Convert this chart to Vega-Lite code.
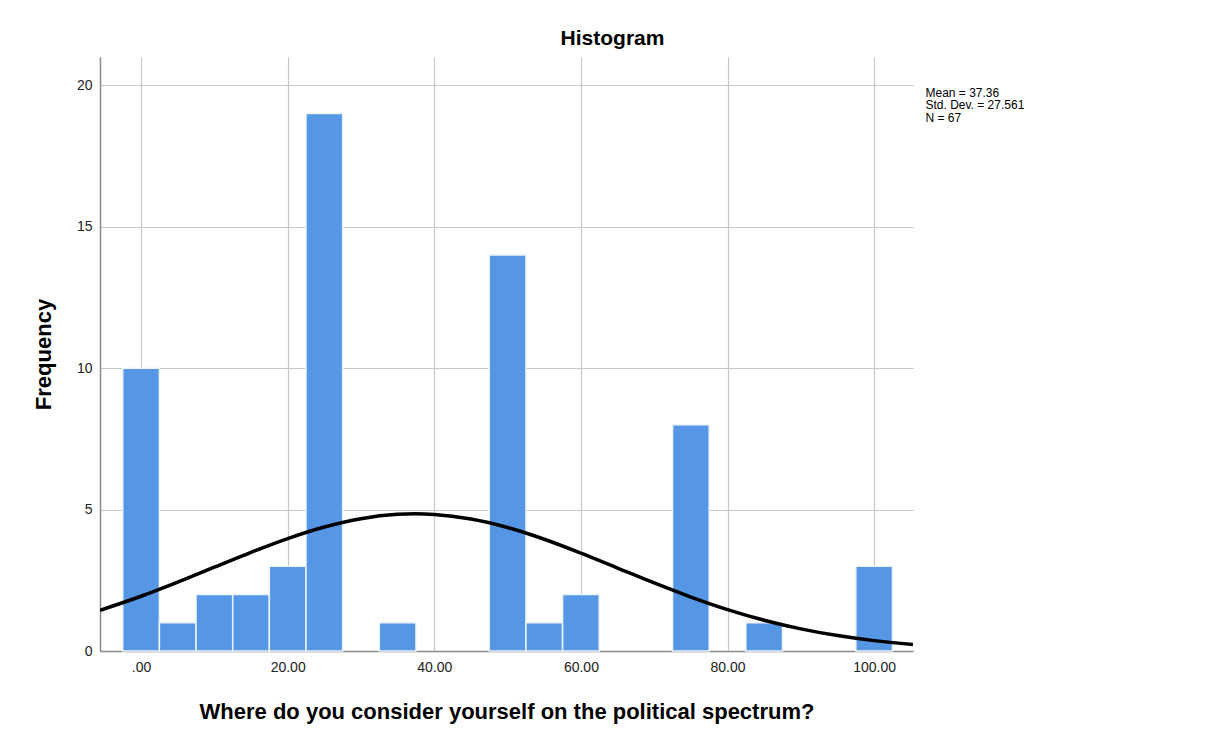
{
  "$schema": "https://vega.github.io/schema/vega-lite/v6.json",
  "width": 813,
  "height": 594,
  "autosize": {"type": "none"},
  "padding": {"left": 100, "top": 57, "right": 301, "bottom": 92},
  "background": "white",
  "config": {
    "view": {"stroke": null},
    "font": "Liberation Sans",
    "axis": {
      "gridColor": "#c8c8c8",
      "gridWidth": 1.2,
      "domainColor": "#8a8a8a",
      "domainWidth": 1.5,
      "ticks": false,
      "tickSize": 0,
      "labelFont": "Liberation Sans",
      "labelFontSize": 14,
      "labelColor": "#222222",
      "titleFont": "Liberation Sans",
      "titleFontSize": 22,
      "titleFontWeight": "bold",
      "titleColor": "#000000"
    }
  },
  "title": {
    "text": "Histogram",
    "fontSize": 21,
    "fontWeight": "bold",
    "font": "Liberation Sans",
    "color": "#000000",
    "anchor": "middle",
    "dx": 106,
    "offset": 8
  },
  "datasets": {
    "bins": [
      {"bin_start": -2.5, "bin_end": 2.5, "count": 10},
      {"bin_start": 2.5, "bin_end": 7.5, "count": 1},
      {"bin_start": 7.5, "bin_end": 12.5, "count": 2},
      {"bin_start": 12.5, "bin_end": 17.5, "count": 2},
      {"bin_start": 17.5, "bin_end": 22.5, "count": 3},
      {"bin_start": 22.5, "bin_end": 27.5, "count": 19},
      {"bin_start": 32.5, "bin_end": 37.5, "count": 1},
      {"bin_start": 47.5, "bin_end": 52.5, "count": 14},
      {"bin_start": 52.5, "bin_end": 57.5, "count": 1},
      {"bin_start": 57.5, "bin_end": 62.5, "count": 2},
      {"bin_start": 72.5, "bin_end": 77.5, "count": 8},
      {"bin_start": 82.5, "bin_end": 87.5, "count": 1},
      {"bin_start": 97.5, "bin_end": 102.5, "count": 3}
    ],
    "curve": [
      {"x": -5.6, "y": 1.439},
      {"x": 0, "y": 1.935},
      {"x": 5, "y": 2.434},
      {"x": 10, "y": 2.963},
      {"x": 15, "y": 3.489},
      {"x": 20, "y": 3.976},
      {"x": 25, "y": 4.385},
      {"x": 30, "y": 4.679},
      {"x": 35, "y": 4.831},
      {"x": 37.36, "y": 4.849},
      {"x": 40, "y": 4.827},
      {"x": 45, "y": 4.666},
      {"x": 50, "y": 4.365},
      {"x": 55, "y": 3.951},
      {"x": 60, "y": 3.46},
      {"x": 65, "y": 2.933},
      {"x": 70, "y": 2.405},
      {"x": 75, "y": 1.908},
      {"x": 80, "y": 1.465},
      {"x": 85, "y": 1.089},
      {"x": 90, "y": 0.783},
      {"x": 95, "y": 0.5446},
      {"x": 100, "y": 0.3665},
      {"x": 105.3, "y": 0.2324}
    ],
    "stats": [
      {"line": "Mean = 37.36", "xpos": 107.0, "ypos": 19.74},
      {"line": "Std. Dev. = 27.561", "xpos": 107.0, "ypos": 19.29},
      {"line": "N = 67", "xpos": 107.0, "ypos": 18.84}
    ]
  },
  "layer": [
    {
      "data": {"name": "bins"},
      "mark": {"type": "rect", "fill": "#5596e5", "stroke": "#eef4fc", "strokeWidth": 1.5},
      "encoding": {
        "x": {
          "field": "bin_start",
          "type": "quantitative",
          "scale": {"domain": [-5.6, 105.3], "nice": false, "zero": false},
          "axis": {
            "values": [0, 20, 40, 60, 80, 100],
            "format": ".2f",
            "labelExpr": "datum.value == 0 ? '.00' : format(datum.value, '.2f')",
            "labelPadding": 9,
            "title": "Where do you consider yourself on the political spectrum?",
            "titlePadding": 27
          }
        },
        "x2": {"field": "bin_end"},
        "y": {
          "field": "count",
          "type": "quantitative",
          "scale": {"domain": [0, 21], "nice": false},
          "axis": {
            "values": [0, 5, 10, 15, 20],
            "labelPadding": 8,
            "title": "Frequency",
            "titlePadding": 21
          }
        },
        "y2": {"datum": 0}
      }
    },
    {
      "data": {"name": "curve"},
      "mark": {"type": "line", "color": "#000000", "strokeWidth": 3.5, "interpolate": "monotone", "clip": true},
      "encoding": {
        "x": {"field": "x", "type": "quantitative"},
        "y": {"field": "y", "type": "quantitative"}
      }
    },
    {
      "data": {"name": "stats"},
      "mark": {"type": "text", "align": "left", "baseline": "middle", "fontSize": 12, "font": "Liberation Sans", "color": "#000000", "clip": false},
      "encoding": {
        "x": {"field": "xpos", "type": "quantitative"},
        "y": {"field": "ypos", "type": "quantitative"},
        "text": {"field": "line"}
      }
    }
  ]
}
